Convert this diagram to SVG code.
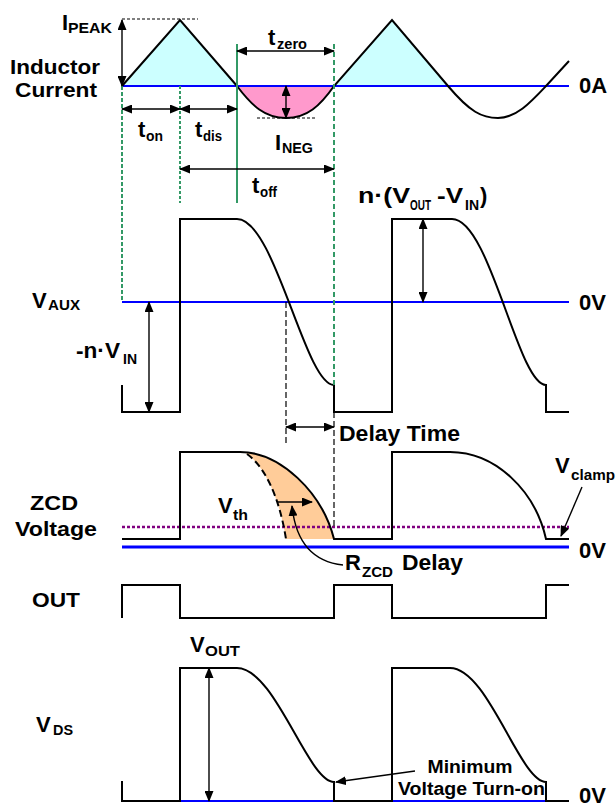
<svg xmlns="http://www.w3.org/2000/svg" width="616" height="807" viewBox="0 0 616 807">
<defs>
<marker id="ah" markerUnits="userSpaceOnUse" markerWidth="11" markerHeight="9" refX="10" refY="4.5" orient="auto-start-reverse">
<path d="M0,0 L11,4.5 L0,9 z" fill="#000"/>
</marker>
<style>
text{font-family:"Liberation Sans",Arial,sans-serif;font-weight:bold;fill:#000}
.t{font-size:22px}
.l{font-size:20px;text-anchor:middle}
.s{font-size:14px}
.m{font-size:18px}
.wave{fill:none;stroke:#000;stroke-width:2;stroke-linejoin:miter}
.zero{stroke:#0000FF;stroke-width:2;fill:none}
.arr{stroke:#000;stroke-width:1.4;fill:none;marker-start:url(#ah);marker-end:url(#ah)}
.arr1{stroke:#000;stroke-width:1.4;fill:none;marker-end:url(#ah)}
.grn{stroke:#339966;stroke-width:2;fill:none}
.blk{stroke:#000;stroke-width:1.2;fill:none;stroke-dasharray:6,3}
</style>
</defs>
<rect width="616" height="807" fill="#fff"/>

<g id="inductor-current">
<path d="M122,86 L180,20 L237,86 Z" fill="#CCFFFF"/>
<path d="M334,86 L392,20 L448,86 Z" fill="#CCFFFF"/>
<path d="M237,86 C252,106 265,118 286,118 C307,118 320,106 334,86 Z" fill="#FF99CC"/>
<line class="zero" x1="122" y1="86" x2="569" y2="86"/>
<path class="wave" d="M122,86 L180,20 L237,86 C252,106 265,118 286,118 C307,118 320,106 334,86 L392,20 L448,86 C470,112 482,118 498,118 C516,118 530,103 546,86 L569,61"/>
<line x1="122" y1="19" x2="198" y2="19" stroke="#000" stroke-width="1.2" stroke-dasharray="3,2"/>
<line x1="257" y1="118" x2="315" y2="118" stroke="#000" stroke-width="1.2" stroke-dasharray="3,2"/>
<text class="t" x="62" y="30" font-size="23">I</text>
<text class="s" x="68" y="33" textLength="44" lengthAdjust="spacingAndGlyphs">PEAK</text>
<text class="l" x="55" y="74" textLength="90" lengthAdjust="spacingAndGlyphs">Inductor</text>
<text class="l" x="56" y="97" textLength="82" lengthAdjust="spacingAndGlyphs">Current</text>
<text class="t" x="138" y="137">t</text>
<text class="s" x="146" y="141" textLength="17" lengthAdjust="spacingAndGlyphs">on</text>
<text class="t" x="195" y="137">t</text>
<text class="s" x="203" y="141" textLength="19" lengthAdjust="spacingAndGlyphs">dis</text>
<text class="t" x="268" y="45">t</text>
<text class="s" x="277" y="49" textLength="30" lengthAdjust="spacingAndGlyphs">zero</text>
<text class="t" x="275" y="150" font-size="23">I</text>
<text class="s" x="282" y="153" textLength="31" lengthAdjust="spacingAndGlyphs">NEG</text>
<text class="t" x="252" y="193">t</text>
<text class="s" x="260" y="197" textLength="17" lengthAdjust="spacingAndGlyphs">off</text>
<text class="t" x="579" y="93">0A</text>
</g>

<g id="vaux">
<line class="zero" x1="122" y1="302" x2="569" y2="302"/>
<path class="wave" d="M122,385 V412 H180 V219 H237 C275,219 305,385 334,385 V412 H392 V219 H452 C490,219 518,385 546,385 V412 H569"/>
<text class="t" x="32" y="308">V</text>
<text class="s" x="48" y="310" textLength="32" lengthAdjust="spacingAndGlyphs">AUX</text>
<text class="t" x="76" y="358" textLength="44" lengthAdjust="spacingAndGlyphs">-n·V</text>
<text class="s" x="123" y="364" textLength="14" lengthAdjust="spacingAndGlyphs">IN</text>
<text class="t" x="358" y="203" textLength="52" lengthAdjust="spacingAndGlyphs">n·(V</text>
<text class="s" x="410" y="210" textLength="21" lengthAdjust="spacingAndGlyphs">OUT</text>
<text class="t" x="437" y="203" textLength="26" lengthAdjust="spacingAndGlyphs">-V</text>
<text class="s" x="465" y="210" textLength="14" lengthAdjust="spacingAndGlyphs">IN</text>
<text class="t" x="480" y="203">)</text>
<text class="t" x="579" y="310">0V</text>
<text class="t" x="339" y="441" textLength="121" lengthAdjust="spacingAndGlyphs">Delay Time</text>
</g>

<g id="zcd">
<path d="M245,452.5 C283,455 322,495 334,539 H286 C279,495 263,464 245,452.5 Z" fill="#FFCC99"/>
<line x1="122" y1="547" x2="569" y2="547" stroke="#0000FF" stroke-width="3"/>
<line x1="122" y1="527" x2="569" y2="527" stroke="#800080" stroke-width="2.5" stroke-dasharray="3,2"/>
<path class="wave" d="M122,539 H180 V452 H240 C280,452 322,492 334,539 H392 V452 H450 C495,452 535,490 546,539 H569"/>
<path d="M247,454 C264,466 279,495 286,539" fill="none" stroke="#000" stroke-width="2" stroke-dasharray="7,4"/>
<text class="l" x="54" y="510" textLength="48" lengthAdjust="spacingAndGlyphs">ZCD</text>
<text class="l" x="56" y="536" textLength="82" lengthAdjust="spacingAndGlyphs">Voltage</text>
<text class="t" x="218" y="513">V</text>
<text class="s" x="233" y="520" textLength="15" lengthAdjust="spacingAndGlyphs">th</text>
<text class="t" x="345" y="570">R</text>
<text class="s" x="362" y="577" textLength="31" lengthAdjust="spacingAndGlyphs">ZCD</text>
<text class="t" x="402" y="570" textLength="61" lengthAdjust="spacingAndGlyphs">Delay</text>
<text class="t" x="555" y="473">V</text>
<text class="s" x="571" y="480" textLength="44" lengthAdjust="spacingAndGlyphs">clamp</text>
<text class="t" x="579" y="558">0V</text>
</g>

<g id="out">
<path class="wave" d="M122,618 V585 H180 V618 H334 V585 H392 V618 H546 V585 H569"/>
<text class="l" x="56" y="607" textLength="48" lengthAdjust="spacingAndGlyphs">OUT</text>
</g>

<g id="vds">
<line class="zero" x1="122" y1="801" x2="569" y2="801"/>
<path class="wave" d="M122,781 V801 H180 V668 H237 C275,668 308,782 334,782 V801 H392 V668 H450 C488,668 520,782 546,782 V801 H569"/>
<text class="t" x="36" y="732">V</text>
<text class="s" x="53" y="735" textLength="20" lengthAdjust="spacingAndGlyphs">DS</text>
<text class="t" x="190" y="652">V</text>
<text class="s" x="205" y="656" textLength="35" lengthAdjust="spacingAndGlyphs">OUT</text>
<text class="m" x="470" y="773" text-anchor="middle" textLength="85" lengthAdjust="spacingAndGlyphs">Minimum</text>
<text class="m" x="398" y="795" textLength="147" lengthAdjust="spacingAndGlyphs">Voltage Turn-on</text>
<text class="t" x="579" y="803">0V</text>
</g>

<g id="connectors">
<line class="grn" x1="122" y1="86" x2="122" y2="302" stroke-dasharray="4,2"/>
<line class="grn" x1="180" y1="86" x2="180" y2="203" stroke-dasharray="3,2"/>
<line class="grn" x1="237" y1="44" x2="237" y2="203" stroke-width="2.5"/>
<line class="grn" x1="334" y1="44" x2="334" y2="385" stroke-dasharray="5,3"/>
<line class="blk" x1="286" y1="302" x2="286" y2="445"/>
<line class="blk" x1="334" y1="385" x2="334" y2="527"/>
<line class="arr" x1="122" y1="20" x2="122" y2="86"/>
<line class="arr" x1="122" y1="109" x2="180" y2="109"/>
<line class="arr" x1="180" y1="109" x2="237" y2="109"/>
<line class="arr" x1="237" y1="51" x2="334" y2="51"/>
<line class="arr" x1="180" y1="169" x2="334" y2="169"/>
<line class="arr" x1="286" y1="86" x2="286" y2="118"/>
<line class="arr" x1="149" y1="302" x2="149" y2="412"/>
<line class="arr" x1="423" y1="219" x2="423" y2="302"/>
<line class="arr" x1="286" y1="427" x2="334" y2="427"/>
<line class="arr1" x1="278" y1="502" x2="312" y2="502"/>
<path class="arr1" d="M343,565 C315,562 296,545 292,506"/>
<line class="arr1" x1="582" y1="487" x2="561" y2="536"/>
<line class="arr" x1="209" y1="668" x2="209" y2="801"/>
<line class="arr1" x1="415" y1="771" x2="336" y2="782"/>
</g>
</svg>
